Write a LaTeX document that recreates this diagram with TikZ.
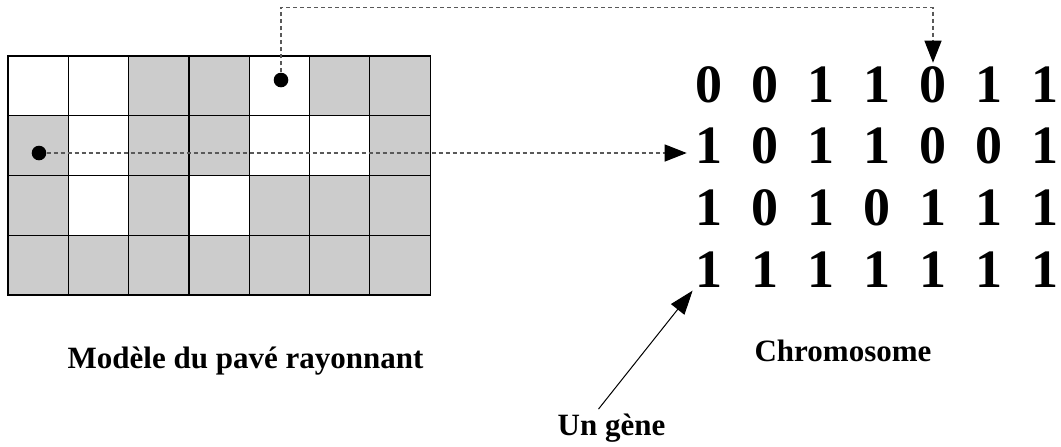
\documentclass[tikz,border=0pt]{standalone}
\usepackage{fontspec}
\setmainfont{Liberation Serif}
\usetikzlibrary{arrows.meta}
\colorlet{cell0}{white}
\colorlet{cell1}{gray!40}

\begin{document}
\begin{tikzpicture}[x=0.5pt, y=-0.5pt,
cell/.style={draw, line width=0.6pt, inner sep=0pt, outer sep=0pt, minimum width=30.15pt, minimum height=29.875pt},
bit/.style={inner sep=0pt, anchor=base, font=\fontsize{27pt}{27pt}\selectfont\bfseries},
caption/.style={inner sep=2pt, anchor=base, font=\fontsize{15.5pt}{18pt}\selectfont\bfseries},
dot/.style={circle, fill=black, inner sep=0pt, minimum size=7.3pt},
link/.style={draw=black!65, line width=0.6pt, dash pattern=on 2pt off 1.5pt, -{Triangle[length=11pt,width=8.5pt,black]}},
pointer/.style={draw, line width=0.5pt, -{Triangle[length=12pt,width=8.5pt]}}]
    \useasboundingbox (0,0) rectangle (1061,446);
    % grid of the patch and its chromosome
    \foreach \row [count=\r] in {{0,0,1,1,0,1,1},{1,0,1,1,0,0,1},{1,0,1,0,1,1,1},{1,1,1,1,1,1,1}}
      \foreach \b [count=\c] in \row {
        \node [cell, fill=cell\b] (c-\r-\c) at ({8+60.3*(\c-0.5)}, {56+59.75*(\r-0.5)}) {};
        \node [bit] (b-\r-\c) at ({709+56*(\c-1)}, {102+61.7*(\r-1)}) {\b};
      }
    \node [dot] (p1) at (281,80) {};
    \node [dot] (p2) at (39,153) {};
    \coordinate (bend) at (281,7.5);
    \draw [link, shorten >=1.5pt] (p1) -- (bend) -| (b-1-5.north);
    \draw [link, shorten >=4.2pt] (p2) -- (p2 -| b-2-1.west);
    \node [caption] (model) at (245.5,368) {Modèle du pavé rayonnant};
    \node [caption] (chromo) at (843,361) {Chromosome};
    \node [caption] (gene) at (611.5,435) {Un gène};
    \draw [pointer, shorten >=2pt] ([xshift=-6.5pt]gene.north) -- (b-4-1.south west);
\end{tikzpicture}
\end{document}
